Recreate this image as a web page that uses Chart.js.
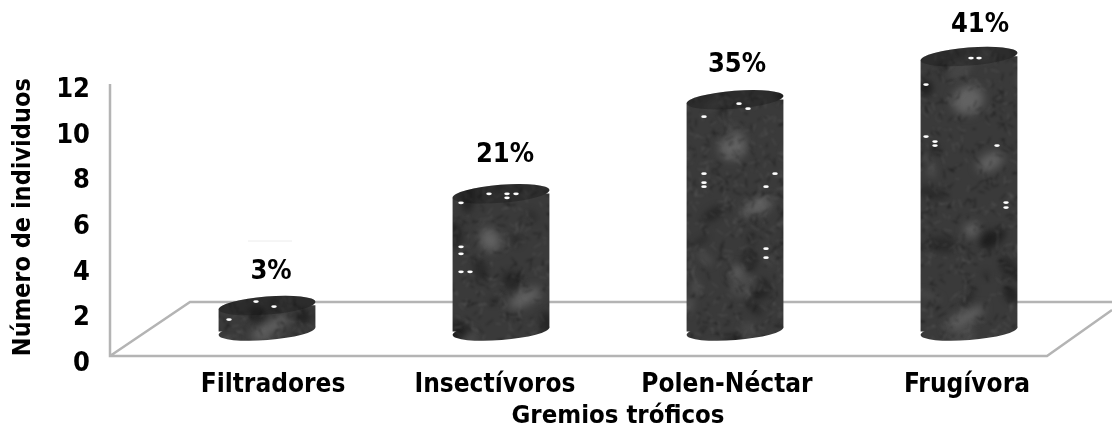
<!DOCTYPE html>
<html>
<head>
<meta charset="utf-8">
<title>Gremios tróficos</title>
<script src="https://cdn.jsdelivr.net/npm/chart.js@4"></script>
<style>
  html, body { margin: 0; padding: 0; background: #fff; }
  #wrap { width: 1112px; height: 425px; }
  /* the original is a soft, resampled picture */
  #myChart { filter: blur(0.6px); }
</style>
</head>
<body>
<div id="wrap"><canvas id="myChart"></canvas></div>
<script>
const categories = ['Filtradores', 'Insectívoros', 'Polen-Néctar', 'Frugívora']
const individuos = [1.3, 7, 11.8, 14]
const percentLabels = ['3%', '21%', '35%', '41%']
const tickValues = [0, 2, 4, 6, 8, 10, 12]

const FONT_FAMILY = '"DejaVu Sans Condensed", "DejaVu Sans", sans-serif'
const CAP_RX = 48.5
const CAP_RY = 9
const CAP_TILT = -0.08
// the category names are not quite centred under the cylinders
const labelShifts = [6, -6, -8, -2]
// label position relative to the top of each cylinder
const percentOffsets = [[4, -34], [4, -39], [2, -35], [11, -32]]
// white flecks of the scanned texture, relative to the top of each cylinder
const flecks = [
  [[-11, -4], [7, 1], [-38, 14]],
  [[-40, 9], [-12, 0], [6, 0], [15, 0], [6, 4], [-40, 53], [-40, 60], [-40, 78], [-31, 78]],
  [[4, 4], [13, 9], [-31, 17], [-31, 74], [-31, 83], [-31, 87], [40, 74], [31, 87], [31, 149], [31, 158]],
  [[2, 1.5], [10, 1.5], [-43, 28], [-43, 80], [-34, 85], [-34, 89], [28, 89], [37, 146], [37, 151]]
]
// the paler patches of the stone texture, in page pixels
const palePatches = [
  [757, 207, 16, 8], [733, 147, 14, 12], [737, 272, 8, 6],
  [990, 162, 14, 8], [968, 100, 16, 14], [972, 230, 8, 7], [965, 318, 22, 6],
  [525, 298, 18, 7], [490, 240, 10, 12], [270, 328, 22, 6]
]

// one layer of the texture, blurred as a whole once it is painted
function paintLayer(target, blur, paint) {
  const layer = document.createElement('canvas')
  layer.width = target.canvas.width
  layer.height = target.canvas.height
  paint(layer.getContext('2d'))
  target.filter = `blur(${blur}px)`
  target.drawImage(layer, 0, 0)
  target.filter = 'none'
}

function makeTexture(ctx) {
  // small fixed generator so the texture is the same on every run
  let seed = 7
  function next() {
    seed = (seed * 16807) % 2147483647
    return seed / 2147483647
  }
  const tile = document.createElement('canvas')
  tile.width = 1112
  tile.height = 425
  const t = tile.getContext('2d')
  t.fillStyle = '#3a3a3a'
  t.fillRect(0, 0, 1112, 425)
  paintLayer(t, 3, l => {
    for (let i = 0; i < 420; i++) {
      const shade = next() < 0.6 ? '22,22,22' : '85,85,85'
      l.fillStyle = `rgba(${shade},${0.3 + next() * 0.35})`
      l.beginPath()
      l.ellipse(next() * 1112, next() * 425, 4 + next() * 12, 3 + next() * 8, next() * 3, 0, Math.PI * 2)
      l.fill()
    }
  })
  paintLayer(t, 5, l => {
    l.fillStyle = 'rgba(125,125,125,0.6)'
    palePatches.forEach(p => {
      l.beginPath()
      l.ellipse(p[0], p[1], p[2], p[3], -0.5, 0, Math.PI * 2)
      l.fill()
    })
  })
  paintLayer(t, 0.9, l => {
    l.lineWidth = 1
    for (let i = 0; i < 9000; i++) {
      const x = next() * 1112
      const y = next() * 425
      const angle = next() * Math.PI * 2
      const len = 3 + next() * 6
      l.strokeStyle = next() < 0.5 ? 'rgba(110,110,110,0.42)' : 'rgba(12,12,12,0.5)'
      l.beginPath()
      l.moveTo(x, y)
      l.lineTo(x + Math.cos(angle) * len, y + Math.sin(angle) * len)
      l.stroke()
    }
  })
  return ctx.createPattern(tile, 'no-repeat')
}

const canvas = document.getElementById('myChart')
const texture = makeTexture(canvas.getContext('2d'))

function capPath(ctx, x, y) {
  ctx.beginPath()
  ctx.ellipse(x, y, CAP_RX, CAP_RY, CAP_TILT, 0, Math.PI * 2)
}

const floorPlugin = {
  id: 'floor',
  beforeDatasetsDraw(chart) {
    const ctx = chart.ctx
    ctx.save()
    ctx.strokeStyle = '#b4b4b4'
    ctx.lineWidth = 2.5
    ctx.beginPath()
    ctx.moveTo(110, 84)
    ctx.lineTo(110, 356)
    ctx.lineTo(1047, 356)
    ctx.lineTo(1112, 310)
    ctx.moveTo(110, 356)
    ctx.lineTo(190, 302)
    ctx.lineTo(1112, 302)
    ctx.stroke()
    // faint leftover above the first label
    ctx.strokeStyle = '#ececec'
    ctx.lineWidth = 1
    ctx.beginPath()
    ctx.moveTo(248, 241)
    ctx.lineTo(292, 241)
    ctx.stroke()
    ctx.restore()
  }
}

const cylinderPlugin = {
  id: 'cylinders',
  beforeDatasetDraw(chart) {
    // square corners of the bars must not show past the tilted caps
    const ctx = chart.ctx
    const dy = Math.sin(CAP_TILT) * CAP_RX
    ctx.save()
    ctx.beginPath()
    chart.getDatasetMeta(0).data.forEach(bar => {
      const { x, y, base } = bar.getProps(['x', 'y', 'base'])
      ctx.moveTo(x - CAP_RX, y - dy)
      ctx.lineTo(x + CAP_RX, y + dy)
      ctx.lineTo(x + CAP_RX, base + dy)
      ctx.lineTo(x - CAP_RX, base - dy)
      ctx.closePath()
    })
    ctx.clip()
  },
  afterDatasetDraw(chart) {
    const ctx = chart.ctx
    ctx.restore()
    chart.getDatasetMeta(0).data.forEach((bar, i) => {
      const { x, y, base } = bar.getProps(['x', 'y', 'base'])
      ctx.save()
      ctx.fillStyle = texture
      capPath(ctx, x, base)
      ctx.fill()
      capPath(ctx, x, y)
      ctx.fill()
      ctx.fillStyle = 'rgba(10,10,10,0.28)'
      ctx.fill()
      ctx.fillStyle = '#ffffff'
      flecks[i].forEach(f => {
        ctx.beginPath()
        ctx.ellipse(x + f[0], y + f[1], 2.8, 1.4, 0, 0, Math.PI * 2)
        ctx.fill()
      })
      ctx.fillStyle = '#000000'
      ctx.font = 'bold 27px ' + FONT_FAMILY
      ctx.textAlign = 'center'
      ctx.textBaseline = 'middle'
      ctx.fillText(percentLabels[i], x + percentOffsets[i][0], y + percentOffsets[i][1])
      ctx.restore()
    })
  }
}

new Chart(canvas, {
  type: 'bar',
  data: {
    labels: categories,
    datasets: [{
      label: 'Número de individuos',
      data: individuos,
      yAxisID: 'yBars',
      backgroundColor: texture,
      borderWidth: 0,
      barThickness: 97
    }]
  },
  plugins: [floorPlugin, cylinderPlugin],
  options: {
    responsive: true,
    maintainAspectRatio: false,
    animation: false,
    events: [],
    layout: { padding: { left: 8, right: 26, top: 21.5, bottom: 0 } },
    plugins: {
      legend: { display: false },
      tooltip: { enabled: false }
    },
    scales: {
      x: {
        grid: { display: false, drawTicks: false },
        border: { display: false },
        ticks: {
          color: '#000',
          padding: 6,
          maxRotation: 0,
          autoSkip: false,
          font: { family: FONT_FAMILY, size: 26, weight: 'bold' }
        },
        title: {
          display: true,
          text: 'Gremios tróficos',
          color: '#000',
          padding: 0,
          font: { family: FONT_FAMILY, size: 25.5, weight: 'bold', lineHeight: 0.7 }
        },
        afterFit(scale) {
          scale.height = 61
          // only the names move, the bars keep their own positions
          scale.getPixelForTick = function (i) {
            return Object.getPrototypeOf(this).getPixelForTick.call(this, i) + labelShifts[i]
          }
        }
      },
      // the drawn labels do not line up with the heights of the cylinders,
      // so the visible axis and the bars each get their own range
      y: {
        min: 0,
        max: 15,
        position: 'left',
        grid: { display: false, drawTicks: false },
        border: { display: false },
        afterBuildTicks(scale) { scale.ticks = tickValues.map(v => ({ value: v })) },
        ticks: {
          color: '#000',
          padding: 60,
          font: { family: FONT_FAMILY, size: 27, weight: 'bold' }
        },
        title: {
          display: true,
          text: ' Número de individuos',
          align: 'start',
          color: '#000',
          padding: 0,
          font: { family: FONT_FAMILY, size: 25, weight: 'bold' }
        },
        afterFit(scale) {
          scale.width = 142
          scale.paddingTop = 0
          scale.paddingBottom = 0
        }
      },
      yBars: {
        display: false,
        min: -1.68,
        max: 15.79
      }
    }
  }
})
</script>
</body>
</html>
